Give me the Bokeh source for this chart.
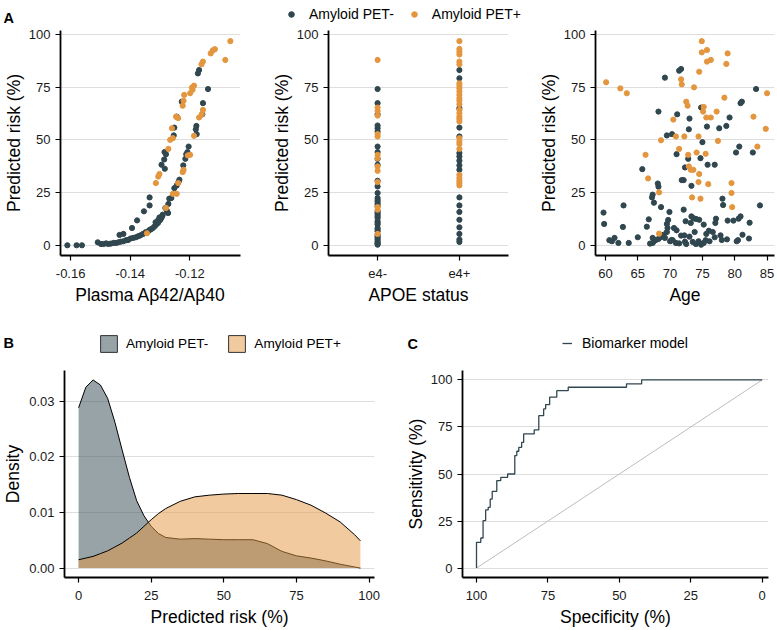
from bokeh.plotting import figure
from bokeh.layouts import column, row
from bokeh.models import (Range1d, FactorRange, FixedTicker, Label, Legend,
                          LegendItem, NumeralTickFormatter)
from bokeh.embed import file_html
from bokeh.resources import INLINE

FONT = "Liberation Sans"
DARK = "#31474F"
ORANGE = "#E4963F"
LEG_NEG = "Amyloid PET-"
LEG_POS = "Amyloid PET+"
NAN = float("nan")

# ---------------- Panel A1: plasma ratio vs predicted risk ----------------
a1_ratio_neg = [-0.1169, -0.1173, -0.1227, -0.1244, -0.1252, -0.1254, -0.1285, -0.1280,
                -0.1286, -0.1295, -0.1284, -0.1335, -0.1335, -0.1354, -0.1377, -0.1394,
                -0.1423, -0.1436,
                -0.1139, -0.1156, -0.1158, -0.1178, -0.1180, -0.1177, -0.1204, -0.1208,
                -0.1212, -0.1215, -0.1222, -0.1235, -0.1238, -0.1244, -0.1252, -0.1262,
                -0.1269, -0.1272, -0.1282, -0.1277, -0.1273, -0.1291, -0.1293, -0.1296,
                -0.1299, -0.1304, -0.1307, -0.1313, -0.1318, -0.1324, -0.1307, -0.1315,
                -0.1302, -0.1329, -0.1335, -0.1340, -0.1348, -0.1357, -0.1366, -0.1373,
                -0.1381, -0.1390, -0.1399, -0.1407, -0.1414, -0.1423, -0.1432, -0.1440,
                -0.1448, -0.1456, -0.1465, -0.1473, -0.1481, -0.1490, -0.1498, -0.1509,
                -0.1611, -0.1580, -0.1562]
a1_risk_neg = [83.1, 81.5, 68.1, 61.0, 55.8, 52.1, 44.2, 43.2,
               40.7, 38.2, 36.3, 22.7, 18.9, 16.1, 11.8, 8.2,
               5.4, 4.9,
               74.1, 67.4, 62.1, 56.6, 55.0, 52.7, 46.8, 44.2,
               43.2, 41.0, 37.9, 31.1, 30.0, 28.4, 27.1, 22.4,
               22.1, 19.6, 17.7, 16.4, 15.3, 14.5, 13.7, 12.9,
               12.1, 11.4, 10.6, 9.8, 9.0, 8.2, 11.8, 10.9,
               13.2, 7.7, 7.3, 6.6, 6.2, 5.4, 4.7, 4.3,
               3.8, 3.5, 3.2, 2.5, 2.4, 1.9, 1.7, 1.4,
               1.1, 1.1, 0.8, 0.6, 0.9, 0.6, 0.6, 1.4,
               0.0, 0.0, 0.0]
a1_ratio_pos = [-0.1064, -0.1081, -0.1116, -0.1123, -0.1130, -0.1156, -0.1161, -0.1186,
                -0.1193, -0.1199, -0.1191, -0.1219, -0.1221, -0.1224, -0.1246, -0.1239,
                -0.1260, -0.1266, -0.1257, -0.1272, -0.1302, -0.1306, -0.1314,
                -0.1156, -0.1160, -0.1169, -0.1186, -0.1199, -0.1207, -0.1221, -0.1224,
                -0.1239, -0.1244, -0.1257, -0.1280, -0.1344]
a1_risk_pos = [96.8, 87.9, 93.0, 92.4, 91.0, 87.1, 85.8, 75.7,
               74.8, 72.1, 73.7, 71.3, 68.5, 66.2, 61.0, 60.3,
               55.5, 50.0, 50.8, 45.7, 33.8, 32.6, 29.5,
               64.2, 62.1, 60.6, 51.9, 42.9, 42.6, 35.8, 34.7,
               29.5, 24.4, 24.4, 17.7, 5.7]

# ---------------- Panel A2: APOE status vs predicted risk ----------------
apoe_levels = ["e4-", "e4+"]
a2_risk_neg_e4neg = [74.1, 67.4, 62.1, 56.8, 55.5, 53.9, 46.8, 44.2, 41.0, 38.2, 30.6,
                     27.9, 24.8, 22.4, 20.5, 18.5, 16.1, 14.5, 12.9, 11.4, 9.8, 8.2, 6.6,
                     5.0, 3.5, 1.9, 0.3, 13.7, 10.6, 7.4, 4.2, 2.7, 1.1, 0.8, 15.3, 21.4,
                     19.5]
a2_risk_neg_e4pos = [83.1, 79.2, 65.0, 55.8, 51.6, 43.7, 42.1, 40.1, 37.9, 35.8, 22.7,
                     18.9, 15.8, 12.1, 8.5, 5.4, 2.7, 1.6]
a2_risk_pos_e4neg = [87.9, 65.3, 63.7, 61.5, 52.7, 51.6, 42.9, 41.3, 37.4, 35.3, 30.0,
                     18.1, 16.9, 5.4]
a2_risk_pos_e4pos = [96.8, 93.1, 91.8, 90.5, 87.1, 85.8, 76.8, 75.7, 74.4, 72.9, 71.3,
                     69.7, 68.5, 66.9, 64.2, 62.6, 61.0, 59.9, 58.7, 50.8, 49.2, 48.0,
                     45.7, 33.4, 31.9, 30.6, 29.5, 28.4]

# ---------------- Panel A3: age vs predicted risk ----------------
a3_age_neg = [69.2, 71.4, 71.7, 68.2, 71.1, 74.8, 73.0, 72.9, 75.7, 77.6, 78.7, 79.2,
              80.9, 81.1, 83.3, 69.5, 70.3, 75.0, 71.0, 80.7, 80.2, 82.8, 75.8, 76.9,
              72.3, 74.7, 72.8, 71.8, 72.1, 73.3, 65.7, 68.1, 68.2, 67.3, 67.2, 67.5,
              68.6, 78.1, 78.2, 83.9, 59.7, 62.8, 59.8, 62.7, 65.0, 60.6, 61.0, 61.4,
              62.0, 63.6, 66.4, 66.7, 66.9, 67.3, 67.5, 67.8, 67.3, 68.2, 68.5, 68.7,
              69.0, 69.2, 69.5, 69.6, 69.5, 69.7, 69.9, 70.0, 70.4, 70.9, 71.4, 70.6,
              71.0, 70.2, 71.7, 72.2, 72.3, 72.5, 72.4, 72.1, 73.2, 73.3, 73.6, 74.0,
              74.5, 73.8, 73.0, 73.5, 74.0, 74.4, 74.8, 75.2, 75.5, 75.6, 76.0, 76.1,
              75.2, 76.6, 76.9, 77.0, 77.1, 77.8, 78.0, 78.8, 78.9, 79.8, 80.6, 80.9,
              80.3, 80.5, 81.2, 82.2, 82.3]
a3_risk_neg = [79.5, 82.8, 83.6, 63.4, 62.1, 65.3, 60.1, 55.0, 56.3, 55.5, 56.6, 60.6,
               67.4, 68.1, 74.1, 52.1, 52.7, 48.9, 43.2, 46.8, 44.0, 44.0, 38.2, 38.2,
               36.9, 41.3, 41.0, 30.9, 30.9, 28.2, 36.1, 29.3, 27.8, 24.0, 22.7, 20.2,
               18.1, 22.1, 19.1, 18.9, 15.5, 18.9, 10.1, 8.7, 3.8, 2.4, 1.9, 3.5,
               1.1, 1.1, 8.8, 12.3, 0.8, 1.1, 1.9, 2.5, 3.5, 3.0, 3.8, 4.3,
               5.0, 3.5, 6.3, 8.2, 10.1, 12.0, 15.8, 1.9, 2.4, 1.1, 0.9, 8.2,
               7.1, 2.5, 4.6, 4.7, 1.7, 0.6, 11.4, 16.9, 10.6, 13.7, 12.9, 12.5,
               12.1, 6.3, 4.1, 1.6, 0.6, 1.9, 0.3, 1.1, 2.4, 5.4, 6.9, 1.9,
               9.8, 6.3, 3.8, 10.6, 12.6, 4.7, 2.5, 2.8, 11.7, 11.7, 12.6, 13.7,
               1.9, 2.4, 5.0, 3.2, 10.7]
a3_age_pos = [60.1, 62.3, 63.3, 66.2, 66.6, 68.3, 68.6, 68.3, 70.5, 70.9, 71.7, 71.8,
              72.2, 72.5, 72.7, 71.4, 72.8, 72.9, 73.2, 73.6, 73.4, 73.7, 74.1, 74.4,
              74.5, 74.4, 74.7, 74.5, 74.9, 74.9, 75.2, 75.1, 75.5, 75.6, 75.7, 75.7,
              76.3, 75.9, 76.3, 77.2, 77.4, 78.4, 78.7, 78.9, 79.5, 79.5, 79.6, 82.9,
              83.5, 84.8, 85.0]
a3_risk_pos = [77.3, 74.4, 72.1, 42.9, 31.7, 25.1, 49.8, 5.5, 59.6, 51.6, 78.7, 76.3,
               51.6, 68.1, 66.2, 45.7, 42.9, 37.4, 35.8, 35.8, 22.7, 74.9, 44.0, 51.6,
               33.8, 30.0, 22.1, 82.3, 96.8, 91.5, 65.6, 63.4, 43.4, 60.6, 92.6, 87.1,
               87.9, 29.0, 60.6, 63.4, 49.5, 70.0, 86.0, 91.0, 29.5, 24.8, 18.1, 61.0,
               46.8, 55.2, 72.1]

# ---------------- Panel B: density of predicted risk ----------------
dens_x = [0, 2.5, 5, 7.5, 10, 12.5, 15, 17.5, 20, 22.5, 25, 27.5, 30, 35, 40, 45, 50,
          55, 60, 65, 70, 75, 80, 85, 90, 95, 97]
dens_neg = [0.0288, 0.0325, 0.0338, 0.0329, 0.0305, 0.0262, 0.0212, 0.0163, 0.0121,
            0.0094, 0.0075, 0.0062, 0.0055, 0.0052, 0.0053, 0.0052, 0.0051, 0.0051,
            0.0051, 0.0044, 0.0030, 0.0022, 0.0018, 0.0013, 0.0007, 0.0002, 0.0000]
dens_pos = [0.0015, 0.0018, 0.0021, 0.0026, 0.0031, 0.0038, 0.0045, 0.0054, 0.0063,
            0.0075, 0.0087, 0.0098, 0.0107, 0.0120, 0.0128, 0.0131, 0.0133, 0.0134,
            0.0134, 0.0134, 0.0131, 0.0123, 0.0113, 0.0099, 0.0083, 0.0060, 0.0049]

# ---------------- Panel C: ROC curve ----------------
roc_spec = [100, 100, 98.5, 97.7, 96.8, 95.9, 95.2, 94.5, 92.9, 91.5, 89.1, 86.6, 85.9,
            85.2, 84.2, 83.5, 79.8, 78.2, 76.5, 75.8, 74.4, 71.9, 67.9, 47.5, 42.2, 0]
roc_sens = [0, 13.7, 16.0, 25.2, 30.9, 32.3, 36.7, 40.8, 46.5, 48.2, 50.0, 59.8, 62.1,
            64.2, 66.8, 71.3, 73.4, 81.0, 84.6, 86.9, 90.8, 94.3, 96.1, 97.9, 100, 100]
chance_spec = [100, 0]
chance_sens = [0, 100]

risk_ticks = [0, 25, 50, 75, 100]
TOTAL_W = 776


def make_fig(fw, fh, bl, br, bt, bb, xr, yr, ylab_standoff=2):
    p = figure(frame_width=fw, frame_height=fh, x_range=xr, y_range=yr,
               min_border_left=bl, min_border_right=br, min_border_top=bt,
               min_border_bottom=bb, output_backend="svg", toolbar_location=None)
    p.outline_line_color = None
    p.background_fill_color = "white"
    p.border_fill_color = "white"
    p.xgrid.visible = False
    p.ygrid.grid_line_color = "#DEDEDE"
    p.ygrid.grid_line_width = 1
    for ax in (p.xaxis[0], p.yaxis[0]):
        ax.axis_line_color = "black"
        ax.axis_line_width = 1.8
        ax.major_tick_line_color = "black"
        ax.major_tick_line_width = 1.2
        ax.major_tick_out = 5
        ax.major_tick_in = 0
        ax.minor_tick_line_color = None
        ax.major_label_text_font = FONT
        ax.major_label_text_font_size = "13px"
        ax.major_label_text_color = "#1a1a1a"
        ax.axis_label_text_font = FONT
        ax.axis_label_text_font_size = "17.5px"
        ax.axis_label_text_font_style = "normal"
        ax.axis_label_text_color = "black"
    p.xaxis.major_label_standoff = 8
    p.xaxis.axis_label_standoff = 4
    p.yaxis.major_label_standoff = 5
    p.yaxis.axis_label_standoff = ylab_standoff
    return p


def make_header(h):
    p = figure(width=TOTAL_W, height=h, x_range=Range1d(0, TOTAL_W), y_range=Range1d(0, h),
               min_border_left=0, min_border_right=0, min_border_top=0,
               min_border_bottom=0, x_axis_type=None, y_axis_type=None,
               output_backend="svg", toolbar_location=None)
    p.outline_line_color = None
    p.grid.visible = False
    p.background_fill_color = "white"
    p.border_fill_color = "white"
    return p


def letter(p, txt, x, y):
    p.add_layout(Label(x=x, y=y, x_units="screen", y_units="screen", text=txt,
                       text_font=FONT, text_font_size="14.5px", text_font_style="bold",
                       text_color="black", text_baseline="alphabetic"))


def legend(p, items, x, y, **kw):
    p.add_layout(Legend(items=items, orientation="horizontal", location=(x, y),
                        padding=0, margin=0, label_text_font=FONT,
                        label_text_color="black", border_line_color=None,
                        background_fill_alpha=0, **kw))


risk_range = (-4.85, 101.85)

# ---- header of row A (panel letter + shared legend); legend keys hold no visible data
h1 = make_header(25)
k_neg = h1.scatter([NAN], [NAN], size=5.2, color=DARK)
k_pos = h1.scatter([NAN], [NAN], size=5.2, color=ORANGE)
letter(h1, "A", 3, 8)
legend(h1, [LegendItem(label=LEG_NEG, renderers=[k_neg]),
            LegendItem(label=LEG_POS, renderers=[k_pos])], 284, 3,
       spacing=13, label_standoff=11, glyph_width=14, glyph_height=16,
       label_height=16, label_text_font_size="14px")

# ---- A1
a1 = make_fig(180, 225, 60, 5, 5, 60, Range1d(-0.1634, -0.1030), Range1d(*risk_range))
a1.scatter(a1_ratio_neg, a1_risk_neg, size=5.2, color=DARK)
a1.scatter(a1_ratio_pos, a1_risk_pos, size=5.2, color=ORANGE)
a1.xaxis.ticker = FixedTicker(ticks=[-0.16, -0.14, -0.12])
a1.xaxis.formatter = NumeralTickFormatter(format="0.00")
a1.yaxis.ticker = FixedTicker(ticks=risk_ticks)
a1.xaxis.axis_label = "Plasma A\u03b242/A\u03b240"
a1.yaxis.axis_label = "Predicted risk (%)"

# ---- A2
a2 = make_fig(180, 225, 83, 5, 5, 60, FactorRange(factors=apoe_levels, range_padding=0.1),
              Range1d(*risk_range))
a2.scatter(["e4-"] * len(a2_risk_neg_e4neg), a2_risk_neg_e4neg, size=5.2, color=DARK)
a2.scatter(["e4+"] * len(a2_risk_neg_e4pos), a2_risk_neg_e4pos, size=5.2, color=DARK)
a2.scatter(["e4-"] * len(a2_risk_pos_e4neg), a2_risk_pos_e4neg, size=5.2, color=ORANGE)
a2.scatter(["e4+"] * len(a2_risk_pos_e4pos), a2_risk_pos_e4pos, size=5.2, color=ORANGE)
a2.yaxis.ticker = FixedTicker(ticks=risk_ticks)
a2.xaxis.axis_label = "APOE status"
a2.yaxis.axis_label = "Predicted risk (%)"

# ---- A3
a3 = make_fig(179, 225, 82, 2, 5, 60, Range1d(58.46, 86.15), Range1d(*risk_range))
a3.scatter(a3_age_neg, a3_risk_neg, size=5.2, color=DARK)
a3.scatter(a3_age_pos, a3_risk_pos, size=5.2, color=ORANGE)
a3.xaxis.ticker = FixedTicker(ticks=[60, 65, 70, 75, 80, 85])
a3.yaxis.ticker = FixedTicker(ticks=risk_ticks)
a3.xaxis.axis_label = "Age"
a3.yaxis.axis_label = "Predicted risk (%)"

# ---- header of rows B / C
h2 = make_header(50)
kb1 = h2.quad(left=[NAN], right=[NAN], top=[NAN], bottom=[NAN], fill_color=DARK,
              fill_alpha=0.5, line_color="#333333", line_width=1)
kb2 = h2.quad(left=[NAN], right=[NAN], top=[NAN], bottom=[NAN], fill_color=ORANGE,
              fill_alpha=0.5, line_color="#333333", line_width=1)
kc = h2.line([NAN], [NAN], line_color=DARK, line_width=1.3)
letter(h2, "B", 3, 23)
letter(h2, "C", 407, 22)
legend(h2, [LegendItem(label=LEG_NEG, renderers=[kb1]),
            LegendItem(label=LEG_POS, renderers=[kb2])], 98, 11,
       spacing=18, label_standoff=7, glyph_width=21, glyph_height=21,
       label_height=21, label_text_font_size="13.6px")
legend(h2, [LegendItem(label="Biomarker model", renderers=[kc])], 562, 14,
       label_standoff=10, glyph_width=10, glyph_height=16, label_height=16,
       label_text_font_size="14px")

# ---- B
b = make_fig(310, 207, 63, 15, 5, 52, Range1d(-4.85, 101.85), Range1d(-0.00169, 0.0355),
             ylab_standoff=3)
b.varea(x=dens_x, y1=[0] * len(dens_x), y2=dens_neg, fill_color=DARK, fill_alpha=0.5)
b.line(dens_x, dens_neg, line_color="black", line_width=1)
b.varea(x=dens_x, y1=[0] * len(dens_x), y2=dens_pos, fill_color=ORANGE, fill_alpha=0.5)
b.line(dens_x, dens_pos, line_color="black", line_width=1)
b.xaxis.ticker = FixedTicker(ticks=risk_ticks)
b.yaxis.ticker = FixedTicker(ticks=[0, 0.01, 0.02, 0.03])
b.yaxis.formatter = NumeralTickFormatter(format="0.00")
b.xaxis.axis_label = "Predicted risk (%)"
b.yaxis.axis_label = "Density"

# ---- C
c = make_fig(306, 207, 73, 9, 5, 52, Range1d(104.9, -2.2), Range1d(-5, 105))
c.line(chance_spec, chance_sens, line_color="#BDBDBD", line_width=1)
c.step(roc_spec, roc_sens, mode="after", line_color=DARK, line_width=1.3)
c.xaxis.ticker = FixedTicker(ticks=risk_ticks)
c.yaxis.ticker = FixedTicker(ticks=risk_ticks)
c.xaxis.axis_label = "Specificity (%)"
c.yaxis.axis_label = "Sensitivity (%)"

layout = column(h1, row(a1, a2, a3), h2, row(b, c))
open("out.html", "w").write(file_html(layout, INLINE))
